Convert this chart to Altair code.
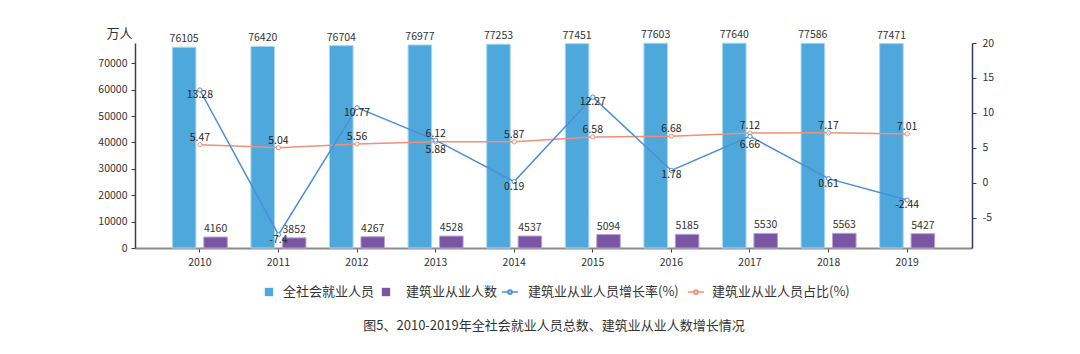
import altair as alt
import pandas as pd

FONT = "Noto Sans CJK SC"

years = ["2010", "2011", "2012", "2013", "2014", "2015", "2016", "2017", "2018", "2019"]
total_employed = [76105, 76420, 76704, 76977, 77253, 77451, 77603, 77640, 77586, 77471]
construction_employed = [4160, 3852, 4267, 4528, 4537, 5094, 5185, 5530, 5563, 5427]
growth_rate = [13.28, -7.4, 10.77, 6.12, 0.19, 12.27, 1.78, 6.66, 0.61, -2.44]
share_rate = [5.47, 5.04, 5.56, 5.88, 5.87, 6.58, 6.68, 7.12, 7.17, 7.01]

series_names = ["全社会就业人员", "建筑业从业人数", "建筑业从业人员增长率(%)", "建筑业从业人员占比(%)"]
bar_colors = ["#4FA8DC", "#7A55A3"]
bar_strokes = ["#A9D6F1", "#B9A3D6"]
growth_color = "#4A8FD6"
share_color = "#F0907A"
title_text = "图5、2010-2019年全社会就业人员总数、建筑业从业人数增长情况"

# long table for bars
bars_df = pd.DataFrame({
    "year": years * 2,
    "series": [series_names[0]] * len(years) + [series_names[1]] * len(years),
    "value": total_employed + construction_employed,
})

# wide table for the two percentage lines
lines_df = pd.DataFrame({"year": years, "growth": growth_rate, "share": share_rate})
lines_df["growth_txt"] = [str(v) for v in growth_rate]
lines_df["share_txt"] = [str(v) for v in share_rate]
near = (lines_df["growth"] - lines_df["share"]).abs() < 0.5
lines_df["gpos"] = "mid"
lines_df.loc[near & (lines_df["growth"] > lines_df["share"]), "gpos"] = "up"
lines_df.loc[near & (lines_df["growth"] < lines_df["share"]), "gpos"] = "down"
lines_df["spos"] = "up"
lines_df.loc[near & (lines_df["growth"] > lines_df["share"]), "spos"] = "down"

x_enc = alt.X(
    "year:N", sort=years,
    scale=alt.Scale(paddingInner=0.30, paddingOuter=0.475),
    axis=alt.Axis(title=None, labelAngle=0, domainColor="#8C8C8C", domainWidth=2,
                  tickColor="#404040", tickSize=4, tickWidth=1, labelPadding=5,
                  labelFontSize=10.5, labelColor="#333333", labelFont=FONT),
)
xoff_enc = alt.XOffset("series:N", sort=series_names[:2],
                       scale=alt.Scale(paddingInner=0.25, paddingOuter=0))
y_left = alt.Y(
    "value:Q",
    scale=alt.Scale(domain=[0, 77700], nice=False, zero=True),
    axis=alt.Axis(values=[0, 10000, 20000, 30000, 40000, 50000, 60000, 70000], format="d",
                  title="万人", titleAngle=0, titleX=-16, titleY=-10, titleAlign="center",
                  titleBaseline="middle", titleFontSize=13, titleFontWeight="normal",
                  titleColor="#333333", titleFont=FONT,
                  domainColor="#404040", domainWidth=1.5, tickColor="#404040", tickSize=4,
                  labelPadding=4, labelFontSize=10.5, labelColor="#333333", labelFont=FONT),
)
right_axis = alt.Axis(orient="right", values=[-5, 0, 5, 10, 15, 20], title=None,
                      labelExpr="toString(datum.value)",
                      domainColor="#2E3A6A", domainWidth=1.5, tickColor="#2E3A6A", tickSize=4,
                      labelPadding=6, labelFontSize=10.5, labelColor="#333333", labelFont=FONT)
right_scale = alt.Scale(domain=[-9.3, 20], nice=False, zero=False)

color_enc = alt.Color("series:N", scale=alt.Scale(domain=series_names[:2], range=bar_colors), legend=None)
stroke_enc = alt.Stroke("series:N", scale=alt.Scale(domain=series_names[:2], range=bar_strokes), legend=None)

bars = alt.Chart(bars_df).mark_bar(strokeWidth=1).encode(
    x=x_enc, xOffset=xoff_enc, y=y_left, color=color_enc, stroke=stroke_enc)
bar_text = alt.Chart(bars_df).mark_text(dy=-5, baseline="alphabetic", fontSize=10.5,
                                         color="#333333", font=FONT).encode(
    x=x_enc, xOffset=xoff_enc, y=y_left, text=alt.Text("value:Q", format="d"))
bar_group = alt.layer(bars, bar_text)

y_growth = alt.Y("growth:Q", scale=right_scale, axis=right_axis)
y_share = alt.Y("share:Q", scale=right_scale, axis=right_axis)

base_lines = alt.Chart(lines_df)
share_line = base_lines.mark_line(
    color=share_color, strokeWidth=1.5,
    point=alt.OverlayMarkDef(filled=True, fill="white", stroke=share_color, strokeWidth=1, size=18),
).encode(x=x_enc, y=y_share)
growth_line = base_lines.mark_line(
    color=growth_color, strokeWidth=1.5,
    point=alt.OverlayMarkDef(filled=True, fill="white", stroke=growth_color, strokeWidth=1, size=18),
).encode(x=x_enc, y=y_growth)

def lbl(field, yenc, pos, dy):
    return base_lines.transform_filter(alt.datum[pos[0]] == pos[1]).mark_text(
        dy=dy, baseline="middle", fontSize=10.5, color="#262626", font=FONT
    ).encode(x=x_enc, y=yenc, text=alt.Text(f"{field}_txt:N"))

g_mid = lbl("growth", y_growth, ("gpos", "mid"), 5)
g_up = lbl("growth", y_growth, ("gpos", "up"), -6)
g_down = lbl("growth", y_growth, ("gpos", "down"), 9)
s_up = lbl("share", y_share, ("spos", "up"), -7)
s_down = lbl("share", y_share, ("spos", "down"), 8)

line_group = alt.layer(share_line, growth_line, g_mid, g_up, g_down, s_up, s_down)

dummy = alt.Data(values=[{"k": 1}])

# legend (below plot)
LY = 249
ox = 135
leg = []
leg.append(alt.Chart(dummy).mark_square(size=70, color=bar_colors[0], opacity=1).encode(
    x=alt.value(269 - ox), y=alt.value(LY)))
leg.append(alt.Chart(dummy).mark_square(size=70, color=bar_colors[1], opacity=1).encode(
    x=alt.value(386 - ox), y=alt.value(LY)))
leg.append(alt.Chart(dummy).mark_rule(color=growth_color, strokeWidth=1.5).encode(
    x=alt.value(502 - ox), x2=alt.value(518 - ox), y=alt.value(LY)))
leg.append(alt.Chart(dummy).mark_point(filled=True, fill="white", stroke=growth_color, size=14, opacity=1).encode(
    x=alt.value(510 - ox), y=alt.value(LY)))
leg.append(alt.Chart(dummy).mark_rule(color=share_color, strokeWidth=1.5).encode(
    x=alt.value(688 - ox), x2=alt.value(704 - ox), y=alt.value(LY)))
leg.append(alt.Chart(dummy).mark_point(filled=True, fill="white", stroke=share_color, size=14, opacity=1).encode(
    x=alt.value(696 - ox), y=alt.value(LY)))
for name, px in zip(series_names, [283, 406, 528, 712]):
    leg.append(alt.Chart(dummy).mark_text(text=name, fontSize=13, color="#333333", font=FONT,
                                          align="left", baseline="middle").encode(
        x=alt.value(px - ox), y=alt.value(LY)))

title_mark = alt.Chart(dummy).mark_text(text=title_text, fontSize=13, color="#333333", font=FONT,
                                        align="center", baseline="middle").encode(
    x=alt.value(554 - ox), y=alt.value(326 - 43))

chart = alt.layer(
    bar_group, line_group, *leg, title_mark
).resolve_scale(y="independent").properties(
    width=837, height=205,
    padding={"left": 135, "top": 43, "right": 108, "bottom": 106},
    autosize=alt.AutoSizeParams(type="none"),
    background="white",
).configure_view(stroke=None).configure_axis(grid=False)

chart.save("out.html", embed_options={"renderer": "svg", "actions": False})
